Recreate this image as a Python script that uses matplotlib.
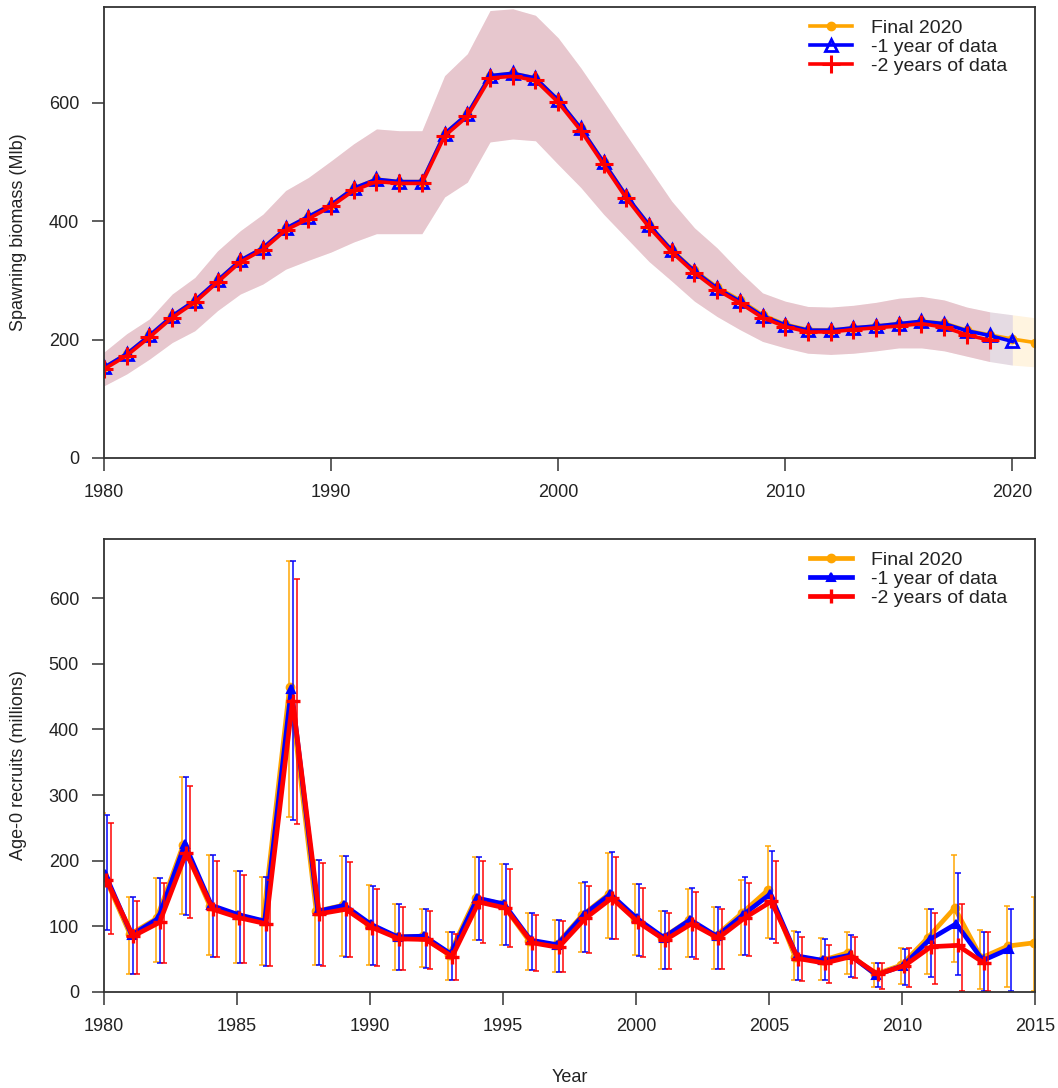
import numpy as np
import matplotlib.pyplot as plt

plt.rcParams['font.family'] = ['Liberation Sans', 'DejaVu Sans']
plt.rcParams['text.color'] = '#222222'
plt.rcParams['axes.labelcolor'] = '#222222'

# Spawning biomass (Mlb), three model runs
sb_years_final = np.arange(1980, 2022)
sb_years_m1 = np.arange(1980, 2021)
sb_years_m2 = np.arange(1980, 2020)

sb_final = [153, 176, 207, 240, 266, 300, 334, 355, 388, 408, 428, 456, 471, 467,
            467, 548, 581, 646, 650, 642, 605, 557, 500, 443, 394, 352, 317, 289,
            267, 242, 226, 217, 216, 220, 223, 227, 231, 228, 216, 208, 201, 195]
sb_m1 = [153, 176, 207, 240, 266, 300, 334, 355, 388, 408, 428, 456, 471, 467,
         467, 548, 581, 646, 650, 642, 605, 557, 500, 443, 394, 351, 316, 287,
         265, 240, 225, 216, 216, 220, 223, 227, 231, 227, 215, 207, 197]
sb_m2 = [150, 173, 204, 237, 263, 297, 331, 352, 385, 404, 425, 452, 467, 464,
         464, 544, 577, 642, 645, 638, 601, 553, 496, 439, 390, 348, 313, 284,
         262, 237, 222, 213, 213, 217, 220, 223, 227, 221, 208, 199]

# 95% interval of spawning biomass
sb_upper = [179, 210, 235, 277, 305, 350, 384, 412, 452, 474, 502, 531, 556, 553,
            553, 646, 683, 756, 759, 748, 710, 659, 603, 546, 490, 434, 389, 355,
            315, 279, 265, 256, 255, 258, 263, 270, 273, 267, 255, 247, 242, 237]
sb_lower = [122, 142, 167, 195, 215, 249, 277, 294, 319, 334, 348, 365, 379, 379,
            379, 441, 466, 534, 539, 536, 496, 457, 412, 372, 332, 299, 265, 239,
            217, 197, 186, 177, 175, 177, 181, 186, 186, 181, 172, 163, 157, 154]

# Age-0 recruits (millions) with intervals
rec_years_final = np.arange(1980, 2016)
rec_years_m1 = np.arange(1980, 2015)
rec_years_m2 = np.arange(1980, 2014)

rec_final = [180, 88, 112, 224, 131, 117, 108, 465, 123, 132, 102, 84, 85, 57,
             143, 134, 78, 71, 117, 149, 111, 82, 109, 85, 120, 156, 54, 48, 60,
             27, 41, 83, 128, 52, 70, 75]
rec_final_hi = [272, 145, 173, 328, 209, 185, 175, 657, 201, 207, 163, 134, 127,
                91, 206, 195, 121, 109, 166, 212, 164, 124, 157, 129, 171, 222, 93,
                82, 91, 44, 67, 127, 209, 95, 131, 144]
rec_final_lo = [94, 28, 45, 119, 56, 44, 41, 267, 41, 55, 41, 34, 38, 18, 79, 71,
                33, 30, 61, 83, 57, 35, 54, 35, 57, 83, 19, 18, 28, 7, 12, 27, 45,
                4, 7, 1]

rec_m1 = [180, 87, 112, 225, 132, 118, 108, 462, 123, 132, 103, 84, 85, 58, 143,
          134, 79, 72, 118, 149, 112, 83, 110, 85, 118, 149, 55, 48, 56, 26, 40,
          80, 104, 48, 66]
rec_m1_hi = [269, 145, 173, 328, 209, 185, 175, 657, 201, 207, 162, 134, 127, 91,
             206, 195, 121, 110, 167, 214, 164, 124, 159, 129, 175, 215, 91, 80,
             87, 44, 66, 126, 181, 91, 127]
rec_m1_lo = [94, 28, 44, 117, 54, 44, 40, 262, 41, 54, 41, 33, 37, 18, 79, 71, 33,
             30, 61, 80, 55, 35, 54, 35, 57, 80, 19, 18, 23, 7, 11, 23, 26, 1, 1]

rec_m2 = [171, 85, 106, 212, 126, 113, 104, 444, 119, 126, 98, 81, 80, 54, 137,
          128, 75, 68, 112, 143, 106, 79, 104, 82, 113, 138, 51, 44, 54, 27, 40,
          69, 71, 44]
rec_m2_hi = [258, 138, 166, 314, 199, 178, 171, 629, 196, 198, 157, 130, 123, 88,
             200, 188, 117, 108, 162, 206, 159, 120, 152, 126, 166, 199, 84, 71,
             84, 44, 67, 121, 134, 91]
rec_m2_lo = [89, 28, 44, 112, 54, 44, 40, 256, 40, 54, 40, 33, 35, 18, 75, 68, 32,
             30, 59, 80, 54, 35, 51, 35, 55, 75, 17, 14, 22, 4, 7, 12, 1, 1]

labels = ['Final 2020', '-1 year of data', '-2 years of data']
ORANGE, BLUE, RED = '#FFA500', '#0000FF', '#FF0000'
AXC = '#333333'

W, H = 1058, 1088
fig = plt.figure(figsize=(W / 100, H / 100), dpi=100)
ax1 = fig.add_axes([104 / W, 1 - 458 / H, 931 / W, 451 / H])
ax2 = fig.add_axes([104 / W, 1 - 992 / H, 931 / W, 453 / H])


def style_axes(ax):
    for sp in ax.spines.values():
        sp.set_color(AXC)
        sp.set_linewidth(1.3)
    ax.tick_params(direction='out', length=9, width=1.1, color=AXC,
                   labelsize=13, labelcolor='#222222')
    ax.tick_params(axis='x', pad=10)
    ax.tick_params(axis='y', pad=9)


# --- top: spawning biomass ---
for yrs, col, a in [(sb_years_final, ORANGE, 0.12),
                    (sb_years_m1, BLUE, 0.10),
                    (sb_years_m2, RED, 0.09)]:
    n = len(yrs)
    ax1.fill_between(yrs, sb_lower[:n], sb_upper[:n], color=col, alpha=a, lw=0)

ax1.plot(sb_years_final, sb_final, color=ORANGE, lw=2.6, marker='o', ms=6,
         label=labels[0])
ax1.plot(sb_years_m1, sb_m1, color=BLUE, lw=2.6, marker='^', ms=8, mfc='none',
         mew=2, label=labels[1])
ax1.plot(sb_years_m2, sb_m2, color=RED, lw=2.6, marker='+', ms=13, mew=2.2,
         label=labels[2])

ax1.set_xlim(1980, 2021)
ax1.set_ylim(0, 762)
ax1.set_xticks([1980, 1990, 2000, 2010, 2020])
ax1.set_yticks([0, 200, 400, 600])
ax1.set_ylabel('Spawning biomass (Mlb)', fontsize=13)
ax1.yaxis.set_label_coords(-0.083, 0.5)
style_axes(ax1)

# --- bottom: recruits (bars nudged sideways so they don't overlap) ---
series = [
    (rec_years_final, rec_final, rec_final_lo, rec_final_hi, ORANGE, 'o', -0.02, -0.05),
    (rec_years_m1, rec_m1, rec_m1_lo, rec_m1_hi, BLUE, '^', 0.04, 0.10),
    (rec_years_m2, rec_m2, rec_m2_lo, rec_m2_hi, RED, '+', 0.09, 0.25),
]
for (yrs, val, lo, hi, col, mk, dx_pt, dx_bar), lab in zip(series, labels):
    val = np.array(val)
    err = [val - np.array(lo), np.array(hi) - val]
    ax2.errorbar(yrs + dx_bar, val, yerr=err, fmt='none', ecolor=col,
                 elinewidth=1.2, capsize=2, capthick=1.2, alpha=0.9)
    kw = dict(color=col, lw=3.4, marker=mk, label=lab)
    if mk == '+':
        kw.update(ms=10, mew=2.4)
    elif mk == '^':
        kw.update(ms=6, mew=1.5)
    else:
        kw.update(ms=6)
    ax2.plot(yrs + dx_pt, val, **kw)

ax2.set_xlim(1980, 2015)
ax2.set_ylim(0, 690)
ax2.set_xticks(np.arange(1980, 2016, 5))
ax2.set_yticks(np.arange(0, 601, 100))
ax2.set_ylabel('Age-0 recruits (millions)', fontsize=13)
ax2.yaxis.set_label_coords(-0.083, 0.5)
ax2.set_xlabel('Year', fontsize=13, labelpad=24)
style_axes(ax2)

for ax in (ax1, ax2):
    leg = ax.legend(loc='upper right', bbox_to_anchor=(0.970, 0.972),
                    frameon=False, fontsize=14, handlelength=2.2,
                    handletextpad=0.95, labelspacing=0.06, borderpad=0,
                    borderaxespad=0)

fig.savefig('out.png', dpi=100)
